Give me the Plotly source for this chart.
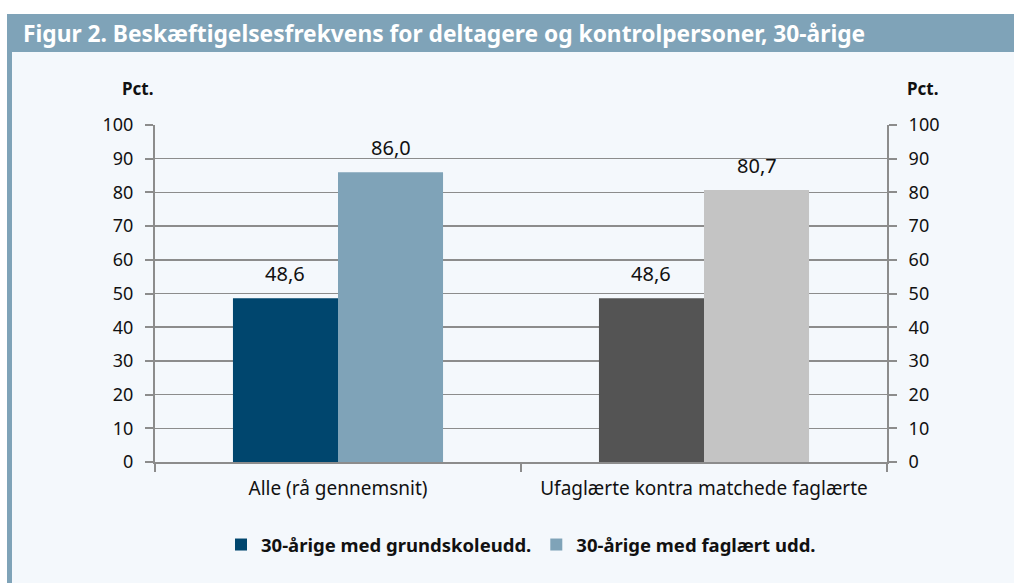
import plotly.graph_objects as go

categories = ["Alle (rå gennemsnit)", "Ufaglærte kontra matchede faglærte"]
series_names = ["30-årige med grundskoleudd.", "30-årige med faglært udd."]
grund_values = [48.6, 48.6]
faglaert_values = [86.0, 80.7]
grund_colors = ["#00466e", "#545454"]
faglaert_colors = ["#7fa3b8", "#c4c4c4"]
y_ticks = [0, 10, 20, 30, 40, 50, 60, 70, 80, 90, 100]
title_text = "Figur 2. Beskæftigelsesfrekvens for deltagere og kontrolpersoner, 30-årige"

FONT = "Noto Sans"
W, H = 1014, 583
L, R, T, B = 155, 127, 125, 121
PW, PH = W - L - R, H - T - B
BARGAP = 0.426


def px_x(p):
    return (p - L) / PW


def px_y(p):
    return (H - B - p) / PH


fig = go.Figure()
fig.add_trace(go.Bar(x=categories, y=grund_values, name=f"<b>{series_names[0]}</b>",
                     marker=dict(color=grund_colors, line=dict(width=0)), hoverinfo="skip"))
fig.add_trace(go.Bar(x=categories, y=faglaert_values, name=f"<b>{series_names[1]}</b>",
                     marker=dict(color=faglaert_colors, line=dict(width=0)), hoverinfo="skip"))
# invisible trace to activate the right-hand axis
fig.add_trace(go.Scatter(x=categories, y=faglaert_values, yaxis="y2", mode="markers",
                         marker=dict(opacity=0), showlegend=False, hoverinfo="skip"))

bar_w = (1 - BARGAP) / 2
annotations = []
for vals, off in ((grund_values, -bar_w / 2), (faglaert_values, bar_w / 2)):
    for i, v in enumerate(vals):
        annotations.append(dict(x=i + off, y=v, xref="x", yref="y",
                                text=f"{v:.1f}".replace(".", ","), showarrow=False,
                                yanchor="bottom", yshift=9,
                                font=dict(family=FONT, size=20, color="#111111")))

annotations += [
    dict(x=px_x(21), y=px_y(34), xref="paper", yref="paper", text=f"<b>{title_text}</b>",
         showarrow=False, xanchor="left", yanchor="middle",
         font=dict(family=FONT, size=22.75, color="white")),
    dict(x=px_x(155), y=px_y(88), xref="paper", yref="paper", text="<b>Pct.</b>",
         showarrow=False, xanchor="right", yanchor="middle",
         font=dict(family=FONT, size=17, color="#111111")),
    dict(x=px_x(905), y=px_y(88), xref="paper", yref="paper", text="<b>Pct.</b>",
         showarrow=False, xanchor="left", yanchor="middle",
         font=dict(family=FONT, size=17, color="#111111")),
]

shapes = [
    dict(type="rect", xref="paper", yref="paper", x0=px_x(0), x1=px_x(1014),
         y0=px_y(14), y1=px_y(0), fillcolor="white", line=dict(width=0), layer="below"),
    dict(type="rect", xref="paper", yref="paper", x0=px_x(0), x1=px_x(7),
         y0=px_y(583), y1=px_y(0), fillcolor="white", line=dict(width=0), layer="below"),
    dict(type="rect", xref="paper", yref="paper", x0=px_x(7), x1=px_x(1014),
         y0=px_y(52), y1=px_y(14), fillcolor="#7fa3b8", line=dict(width=0), layer="below"),
    dict(type="rect", xref="paper", yref="paper", x0=px_x(7), x1=px_x(12),
         y0=px_y(583), y1=px_y(52), fillcolor="#7fa3b8", line=dict(width=0), layer="below"),
]

axis_gray = "#8c8c8c"
fig.update_layout(
    width=W, height=H,
    margin=dict(l=L, r=R, t=T, b=B, pad=0),
    paper_bgcolor="#f4f8fc", plot_bgcolor="#f4f8fc",
    barmode="group", bargap=BARGAP, bargroupgap=0,
    font=dict(family=FONT, size=18, color="#111111"),
    showlegend=True,
    hovermode=False,
    legend=dict(orientation="h", x=0.5, xanchor="center", y=px_y(545), yanchor="middle",
                font=dict(family=FONT, size=18.5, color="#111111"), traceorder="normal",
                itemwidth=30, bgcolor="rgba(0,0,0,0)"),
    xaxis=dict(type="category", tickson="boundaries", ticks="outside", ticklen=8,
               tickcolor=axis_gray, tickwidth=2, showline=True, linecolor=axis_gray,
               linewidth=2, showgrid=False, tickfont=dict(family=FONT, size=19),
               range=[-0.5, 1.5], fixedrange=True, ticklabelstandoff=8),
    yaxis=dict(range=[0, 100], tickvals=y_ticks, ticks="outside", ticklen=8,
               tickcolor=axis_gray, tickwidth=2, showline=True, linecolor=axis_gray,
               linewidth=2, showgrid=True, gridcolor=axis_gray, gridwidth=1.5,
               zeroline=False, tickfont=dict(family=FONT, size=18), ticklabelstandoff=8),
    yaxis2=dict(range=[0, 100], tickvals=y_ticks, overlaying="y", side="right",
                ticks="outside", ticklen=8, tickcolor=axis_gray, tickwidth=2,
                showline=True, linecolor=axis_gray, linewidth=2, showgrid=False,
                zeroline=False, tickfont=dict(family=FONT, size=18), ticklabelstandoff=8),
    annotations=annotations,
    shapes=shapes,
)

fig.write_html("out.html", config={"displayModeBar": False, "staticPlot": True},
               post_script="document.body.style.margin='0';document.body.style.padding='0';")
